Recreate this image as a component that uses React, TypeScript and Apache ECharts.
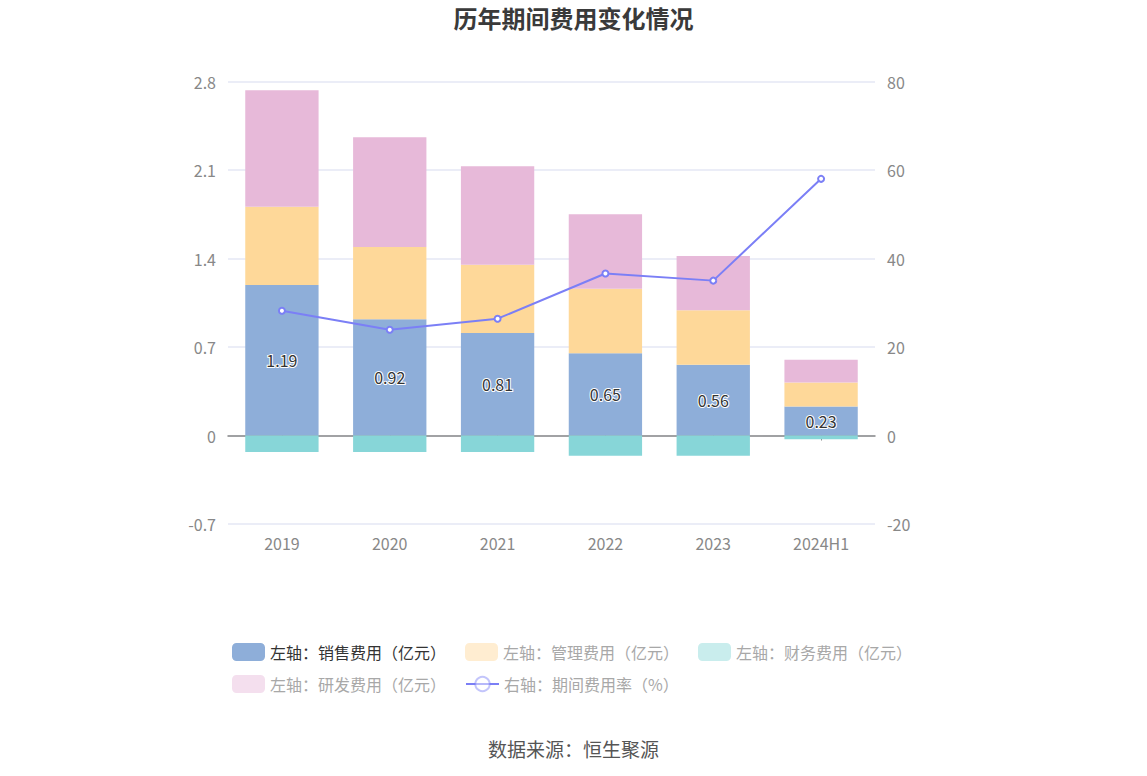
import React, { useEffect, useRef } from "react";
import * as echarts from "echarts";

const categories = ["2019", "2020", "2021", "2022", "2023", "2024H1"];
const salesExpense = [1.19, 0.92, 0.81, 0.65, 0.56, 0.23];
const adminExpense = [0.62, 0.57, 0.54, 0.51, 0.43, 0.19];
const financeExpense = [-0.13, -0.13, -0.13, -0.16, -0.16, -0.03];
const rdExpense = [0.92, 0.87, 0.78, 0.59, 0.43, 0.18];
const expenseRate = [28.2, 23.9, 26.4, 36.6, 35.0, 58.0];
const leftTicks = [-0.7, 2.8, 0.7];
const rightTicks = [-20, 80, 20];

const names = [
  "左轴：销售费用（亿元）",
  "左轴：管理费用（亿元）",
  "左轴：财务费用（亿元）",
  "左轴：研发费用（亿元）",
  "右轴：期间费用率（%）",
];

const FONT = "'Noto Sans CJK SC', 'Noto Sans', sans-serif";

export default function App() {
  const ref = useRef<HTMLDivElement>(null);
  useEffect(() => {
    if (!ref.current) return;
    const chart = echarts.init(ref.current, undefined, { renderer: "svg" });
    const faded = { textStyle: { color: "#a8a8a8" }, itemStyle: { opacity: 0.45 } };
    chart.setOption({
      animation: false,
      textStyle: { fontFamily: FONT },
      title: [
        {
          text: "历年期间费用变化情况",
          left: "center",
          top: 5,
          padding: 0,
          textStyle: { fontSize: 24, fontWeight: "bold", color: "#3a3a3a", fontFamily: FONT },
        },
        {
          text: "数据来源：恒生聚源",
          left: "center",
          top: 739,
          padding: 0,
          textStyle: { fontSize: 19, fontWeight: "normal", color: "#555", fontFamily: FONT },
        },
      ],
      legend: [
        {
          left: 232,
          top: 643,
          padding: 0,
          itemWidth: 33,
          itemHeight: 18,
          itemGap: 19,
          textStyle: { fontSize: 16, color: "#333", fontFamily: FONT },
          data: [
            { name: names[0] },
            { name: names[1], ...faded },
            { name: names[2], ...faded },
          ],
        },
        {
          left: 232,
          top: 675,
          padding: 0,
          itemWidth: 33,
          itemHeight: 18,
          itemGap: 19,
          textStyle: { fontSize: 16, color: "#333", fontFamily: FONT },
          data: [
            { name: names[3], ...faded },
            { name: names[4], ...faded },
          ],
        },
      ],
      grid: { left: 228, right: 272, top: 81.5, bottom: 252, containLabel: false },
      xAxis: {
        type: "category",
        data: categories,
        axisLine: { onZero: true, lineStyle: { color: "#888", width: 1.5 } },
        axisTick: { show: true, alignWithLabel: true, length: 5, lineStyle: { color: "#888" } },
        axisLabel: { color: "#888", fontSize: 16, margin: 11, fontFamily: FONT },
      },
      yAxis: [
        {
          type: "value",
          min: leftTicks[0],
          max: leftTicks[1],
          interval: leftTicks[2],
          axisLine: { show: false },
          axisTick: { show: false },
          axisLabel: { color: "#888", fontSize: 16, margin: 12, fontFamily: FONT },
          splitLine: { lineStyle: { color: "#e4e7f4", width: 1.5 } },
        },
        {
          type: "value",
          min: rightTicks[0],
          max: rightTicks[1],
          interval: rightTicks[2],
          axisLine: { show: false },
          axisTick: { show: false },
          axisLabel: { color: "#888", fontSize: 16, margin: 12, fontFamily: FONT },
          splitLine: { show: false },
        },
      ],
      series: [
        {
          name: names[0],
          type: "bar",
          stack: "total",
          barWidth: "68%",
          data: salesExpense,
          itemStyle: { color: "#8eaed9" },
          label: {
            show: true,
            position: "inside",
            fontSize: 16,
            color: "#333",
            textBorderColor: "#fff",
            textBorderWidth: 2,
            fontFamily: FONT,
          },
        },
        {
          name: names[1],
          type: "bar",
          stack: "total",
          data: adminExpense,
          itemStyle: { color: "#fed899" },
        },
        {
          name: names[2],
          type: "bar",
          stack: "total",
          data: financeExpense,
          itemStyle: { color: "#87d6d8" },
        },
        {
          name: names[3],
          type: "bar",
          stack: "total",
          data: rdExpense,
          itemStyle: { color: "#e7b9d9" },
        },
        {
          name: names[4],
          type: "line",
          yAxisIndex: 1,
          data: expenseRate,
          symbol: "emptyCircle",
          symbolSize: 6,
          lineStyle: { color: "#7b7ff6", width: 2 },
          itemStyle: { color: "#7b7ff6", borderWidth: 2 },
          z: 5,
        },
      ],
    });
    return () => chart.dispose();
  }, []);
  return (
    <div
      ref={ref}
      style={{ position: "fixed", left: 0, top: 0, width: 1147, height: 776, background: "#fff" }}
    />
  );
}
